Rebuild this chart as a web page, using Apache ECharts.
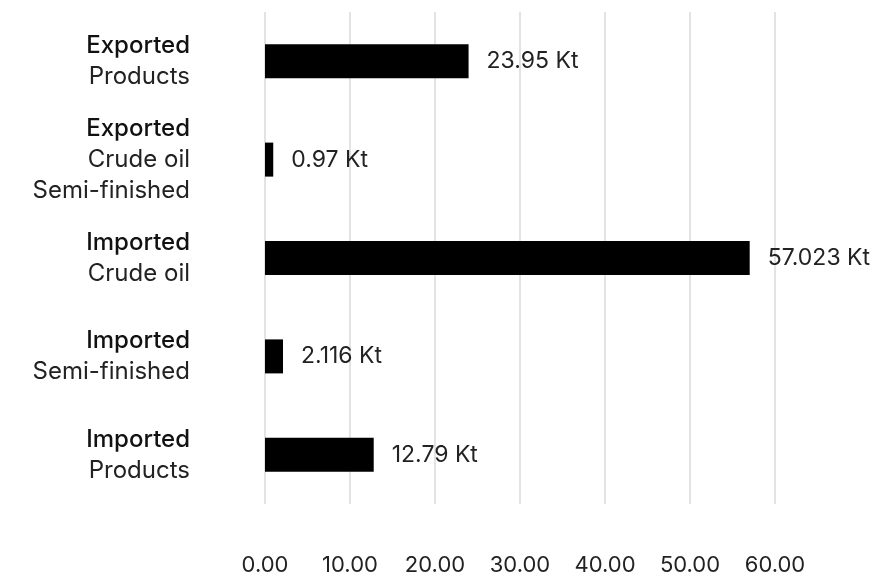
<!DOCTYPE html>
<html>
<head>
<meta charset="utf-8">
<style>
  html, body { margin: 0; padding: 0; background: #fff; }
  #chart { width: 887px; height: 576px; }
</style>
<script src="https://cdn.jsdelivr.net/npm/echarts@6/dist/echarts.min.js"></script>
</head>
<body>
<div id="chart"></div>
<script>
// Category headings (bold line) and their detail lines
const categoryHeads = ['Exported', 'Exported', 'Imported', 'Imported', 'Imported'];
const categoryDetails = [
  ['Products'],
  ['Crude oil', 'Semi-finished'],
  ['Crude oil'],
  ['Semi-finished'],
  ['Products']
];
// Volumes in kilotonnes
const volumes = [23.95, 0.97, 57.023, 2.116, 12.79];
const volumeLabels = ['23.95', '0.97', '57.023', '2.116', '12.79'];
const unit = 'Kt';
const axisMax = 60;
const axisStep = 10;

const categories = categoryHeads.map((h, i) => [h].concat(categoryDetails[i]).join('\n'));

const chart = echarts.init(document.getElementById('chart'));
const FONT = 'Inter, "Noto Sans", sans-serif';

chart.setOption({
  animation: false,
  backgroundColor: '#ffffff',
  grid: { left: 265, right: 112, top: 12, bottom: 71, containLabel: false },
  xAxis: {
    type: 'value',
    min: 0,
    max: axisMax,
    interval: axisStep,
    axisLine: { show: false },
    axisTick: { show: false },
    splitLine: { show: true, lineStyle: { color: '#e3e3e3', width: 2 } },
    axisLabel: {
      margin: 50,
      color: '#222',
      fontFamily: FONT,
      fontSize: 22,
      formatter: v => v.toFixed(2)
    }
  },
  yAxis: {
    type: 'category',
    inverse: true,
    data: categories,
    axisLine: { show: false },
    axisTick: { show: false },
    axisLabel: {
      margin: 75,
      align: 'right',
      formatter: (val) => {
        const lines = val.split('\n');
        return ['{h|' + lines[0] + '}'].concat(lines.slice(1).map(l => '{d|' + l + '}')).join('\n');
      },
      rich: {
        h: { fontFamily: FONT, fontSize: 24, fontWeight: 500, color: '#111', lineHeight: 31, align: 'right' },
        d: { fontFamily: FONT, fontSize: 24, fontWeight: 400, color: '#222', lineHeight: 31, align: 'right' }
      }
    }
  },
  series: [{
    type: 'bar',
    data: volumes,
    barWidth: 34,
    itemStyle: { color: '#000000' },
    label: {
      show: true,
      position: 'right',
      distance: 18,
      color: '#222',
      fontFamily: FONT,
      fontSize: 23,
      formatter: p => volumeLabels[p.dataIndex] + ' ' + unit
    }
  }]
});
</script>
</body>
</html>
